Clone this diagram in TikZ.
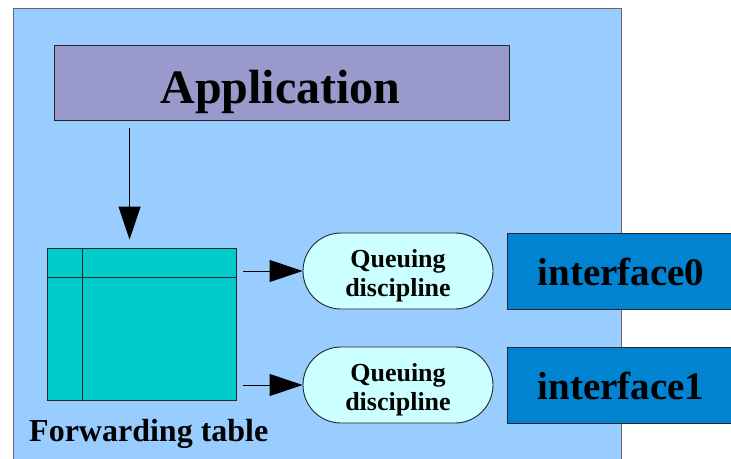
\documentclass[tikz,border=0pt]{standalone}
\usepackage{fontspec}
\setmainfont{Liberation Serif}
\usetikzlibrary{arrows.meta}
\definecolor{bgblue}{HTML}{99CCFF}
\definecolor{appviolet}{HTML}{9999CC}
\definecolor{tablecyan}{HTML}{00CCCC}
\definecolor{pillcyan}{HTML}{CCFFFF}
\definecolor{ifblue}{HTML}{0084D1}
\begin{document}
\begin{tikzpicture}[x=1pt,y=-1pt,
  outline/.style={draw=black!85, line width=0.9pt},
  pill/.style={outline, fill=pillcyan, rounded corners=38pt, minimum width=190pt, minimum height=76pt, inner sep=0pt},
  qtext/.style={inner sep=0pt, align=center, font=\fontsize{26}{29}\selectfont\bfseries},
  ifbox/.style={outline, fill=ifblue, minimum width=228pt, minimum height=76pt, inner sep=0pt},
  iflabel/.style={anchor=base, inner sep=0pt, font=\fontsize{39}{44}\selectfont\bfseries},
  flow/.style={line width=0.9pt, -{Triangle[length=33pt,width=22pt]}}
]
\useasboundingbox (0,0) rectangle (731,458);
\fill[white] (0,0) rectangle (731,458);
\node[draw=black!60, line width=0.9pt, fill=bgblue, anchor=north west, minimum width=608pt, minimum height=480pt, inner sep=0pt] (host) at (13,8) {};
\node[outline, fill=appviolet, minimum width=455pt, minimum height=75pt, inner sep=0pt] (app) at (281.5,82.5) {};
\node[anchor=base, inner sep=0pt, font=\fontsize{48}{52}\selectfont\bfseries] (apptext) at (280.5,103) {Application};
\node[outline, fill=tablecyan, minimum width=189pt, minimum height=152pt, inner sep=0pt] (tbl) at (141.5,324) {};
\draw[outline] ([xshift=36pt]tbl.north west) -- ([xshift=36pt]tbl.south west);
\draw[outline] ([yshift=-30pt]tbl.north west) -- ([yshift=-30pt]tbl.north east);
\node[anchor=base west, inner sep=0pt, font=\fontsize{32}{36}\selectfont\bfseries] (ftlabel) at (29,441) {Forwarding table};
\node[pill] (q0) at (398,271) {};
\node[pill] (q1) at (398,385) {};
\node[qtext] (q0text) at ([yshift=-5pt]q0.center) {Queuing\\discipline};
\node[qtext] (q1text) at ([yshift=-5pt]q1.center) {Queuing\\discipline};
\node[ifbox] (if0) at (621,271) {};
\node[ifbox] (if1) at (621,385) {};
\node[iflabel] (if0text) at (621,285) {interface0};
\node[iflabel] (if1text) at (621,399) {interface1};
\draw[flow] ([xshift=76pt]app.south west) ++(0,8) -- ([xshift=83pt,yshift=8pt]tbl.north west);
\draw[flow, shorten <=7pt] (tbl.east |- q0.west) -- (q0.west);
\draw[flow, shorten <=7pt] (tbl.east |- q1.west) -- (q1.west);
\end{tikzpicture}
\end{document}
